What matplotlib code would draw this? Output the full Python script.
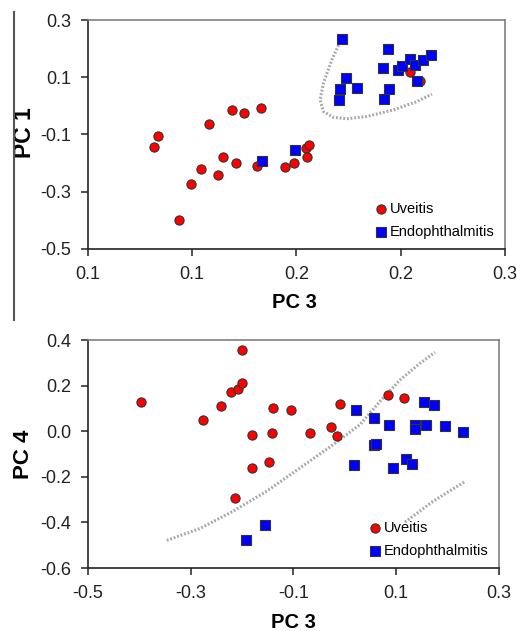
import matplotlib
matplotlib.use('Agg')
import matplotlib.pyplot as plt
from matplotlib.ticker import FormatStrFormatter
from matplotlib.lines import Line2D

plt.rcParams['font.family'] = ['Liberation Sans', 'DejaVu Sans']

# --- top panel: PC 3 vs PC 1 ---
uv1_x = [0.1318, 0.1335, 0.1438, 0.1495, 0.1542, 0.1580, 0.1623, 0.1647, 0.1689, 0.1712,
         0.1746, 0.1810, 0.1831, 0.1947, 0.1990, 0.2046, 0.2061, 0.2051, 0.2543, 0.2590]
uv1_y = [-0.142, -0.106, -0.398, -0.274, -0.220, -0.065, -0.240, -0.180, -0.013, -0.198,
         -0.024, -0.209, -0.006, -0.212, -0.201, -0.148, -0.137, -0.178, 0.119, 0.086]
en1_x = [0.2220, 0.2208, 0.2203, 0.2236, 0.2288, 0.2415, 0.2420, 0.2438, 0.2444, 0.2486,
         0.2506, 0.2543, 0.2567, 0.2577, 0.2605, 0.2644, 0.1834, 0.1995]
en1_y = [0.233, 0.058, 0.019, 0.097, 0.062, 0.134, 0.024, 0.199, 0.059, 0.126,
         0.138, 0.163, 0.143, 0.087, 0.160, 0.177, -0.192, -0.153]
bound1_x = [0.2209, 0.2169, 0.2129, 0.2113, 0.2129, 0.2177, 0.2241, 0.2337, 0.2465, 0.2577, 0.2649]
bound1_y = [0.224, 0.160, 0.079, 0.021, -0.020, -0.040, -0.045, -0.037, -0.014, 0.015, 0.041]

# --- bottom panel: PC 3 vs PC 4 ---
uv2_x = [-0.3963, -0.2763, -0.2400, -0.2206, -0.2083, -0.2005, -0.1992, -0.2128, -0.1810, -0.1797,
         -0.1480, -0.1421, -0.1395, -0.1052, -0.0670, -0.0267, -0.0150, -0.0092, 0.0835, 0.1152]
uv2_y = [0.130, 0.048, 0.112, 0.171, 0.1855, 0.210, 0.356, -0.2934, -0.0146, -0.161,
         -0.136, -0.0058, 0.1036, 0.092, -0.0095, 0.0175, -0.0204, 0.1197, 0.159, 0.147]
en2_x = [0.0225, 0.0575, 0.0180, 0.0562, 0.0608, 0.0867, 0.0945, 0.1198, 0.1301, 0.1366,
         0.1360, 0.1548, 0.1742, 0.1580, 0.1956, 0.2300, -0.1921, -0.1551]
en2_y = [0.0927, 0.059, -0.1489, -0.0613, -0.054, 0.0285, -0.1606, -0.1226, -0.1423, 0.0285,
         0.0080, 0.1270, 0.114, 0.0285, 0.0212, -0.0022, -0.476, -0.412]
bound2a_x = [-0.3464, -0.2815, -0.2167, -0.1519, -0.0870, -0.0222, 0.0297, 0.0686, 0.1074, 0.1463, 0.1755]
bound2a_y = [-0.4788, -0.426, -0.350, -0.2628, -0.1606, -0.0584, 0.0292, 0.131, 0.2248, 0.2978, 0.3460]
bound2b_x = [0.1172, 0.1723, 0.2352]
bound2b_y = [-0.3985, -0.3066, -0.219]

fig = plt.figure(figsize=(5.17, 6.31), dpi=100)
ax1 = fig.add_axes([0.170, 0.6054, 0.807, 0.3629])
ax2 = fig.add_axes([0.170, 0.0998, 0.795, 0.3613])

dot_style = dict(color='#a8a8a8', lw=2.2, ls=(0, (0.6, 0.6)), zorder=1)
circ = dict(marker='o', s=44, c='#ff0000', edgecolors='#333333', linewidths=0.8, zorder=3)
sq = dict(marker='s', s=54, c='#0000ff', edgecolors='#333333', linewidths=0.8, zorder=4)

ax1.plot(bound1_x, bound1_y, **dot_style)
ax1.scatter(uv1_x, uv1_y, label='Uveitis', **circ)
ax1.scatter(en1_x, en1_y, label='Endophthalmitis', **sq)
ax1.set_xlim(0.1, 0.3)
ax1.set_ylim(-0.5, 0.3)
ax1.set_xticks([0.1, 0.15, 0.2, 0.25, 0.3])
ax1.set_yticks([-0.5, -0.3, -0.1, 0.1, 0.3])
ax1.xaxis.set_major_formatter(FormatStrFormatter('%.1f'))
ax1.yaxis.set_major_formatter(FormatStrFormatter('%.1f'))
ax1.set_xlabel('PC 3', fontsize=14.5, fontweight='bold')
ax1.set_ylabel('PC 1', fontsize=16.5, fontweight='bold')
ax1.xaxis.set_label_coords(0.496, -0.190)
ax1.yaxis.set_label_coords(-0.125, 0.507)

ax2.plot(bound2a_x, bound2a_y, **dot_style)
ax2.plot(bound2b_x, bound2b_y, **dot_style)
ax2.scatter(uv2_x, uv2_y, label='Uveitis', **circ)
ax2.scatter(en2_x, en2_y, label='Endophthalmitis', **sq)
ax2.set_xlim(-0.5, 0.3)
ax2.set_ylim(-0.6, 0.4)
ax2.set_xticks([-0.5, -0.3, -0.1, 0.1, 0.3])
ax2.set_yticks([-0.6, -0.4, -0.2, 0.0, 0.2, 0.4])
ax2.xaxis.set_major_formatter(FormatStrFormatter('%.1f'))
ax2.yaxis.set_major_formatter(FormatStrFormatter('%.1f'))
ax2.set_xlabel('PC 3', fontsize=14.5, fontweight='bold')
ax2.set_ylabel('PC 4', fontsize=16, fontweight='bold')
ax2.xaxis.set_label_coords(0.499, -0.198)
ax2.yaxis.set_label_coords(-0.130, 0.5)

for ax in (ax1, ax2):
    ax.spines['left'].set_color('#222222')
    ax.spines['bottom'].set_color('#222222')
    ax.spines['top'].set_color('#808080')
    ax.spines['right'].set_color('#808080')
    for sp in ax.spines.values():
        sp.set_linewidth(1.2)
    ax.tick_params(direction='out', length=5, width=1.1, pad=7, labelsize=13, colors='#222222',
                   labelcolor='#222222')
    ax.legend(loc='lower right', bbox_to_anchor=(1.0, 0.0), frameon=False, fontsize=10.5,
              handletextpad=0.1, labelspacing=0.6, borderaxespad=0.3, markerscale=1.0,
              handlelength=1.0)

# crop border line at left
fig.add_artist(Line2D([14 / 517, 14 / 517], [1 - 12 / 631, 1 - 320 / 631], color='#555555', lw=1.5))

fig.savefig('out.png', dpi=100)
